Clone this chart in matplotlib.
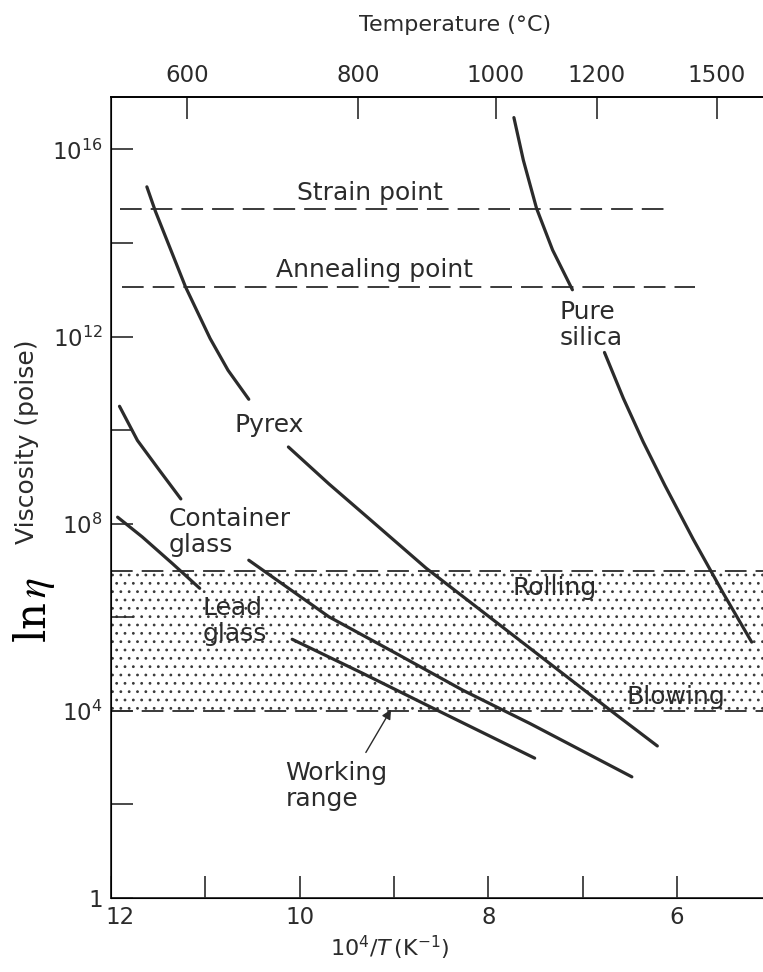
import numpy as np
import matplotlib
matplotlib.use('Agg')
import matplotlib.pyplot as plt
import matplotlib.transforms as mtransforms

plt.rcParams['font.family'] = ['DejaVu Sans']
plt.rcParams['hatch.linewidth'] = 0.8

# x values are 10^4/T (K^-1), y values are log10(viscosity / poise)
silica_upper_x = [7.73, 7.63, 7.49, 7.32, 7.11]
silica_upper_log = [16.68, 15.77, 14.74, 13.85, 13.00]
silica_lower_x = [6.77, 6.57, 6.36, 6.13, 5.83, 5.51, 5.21]
silica_lower_log = [11.66, 10.68, 9.75, 8.82, 7.67, 6.51, 5.47]

pyrex_upper_x = [11.62, 11.53, 11.21, 10.95, 10.76, 10.54]
pyrex_upper_log = [15.20, 14.68, 13.06, 11.96, 11.28, 10.66]
pyrex_lower_x = [10.12, 9.69, 9.26, 8.66, 7.67, 6.68, 6.21]
pyrex_lower_log = [9.64, 8.85, 8.10, 7.05, 5.51, 3.97, 3.25]

container_upper_x = [11.91, 11.72, 11.49, 11.26]
container_upper_log = [10.51, 9.78, 9.15, 8.53]
container_lower_x = [10.54, 9.69, 8.98, 8.27, 7.56, 6.48]
container_lower_log = [7.22, 6.01, 5.23, 4.44, 3.73, 2.59]

lead_upper_x = [11.93, 11.67, 11.35, 11.06]
lead_upper_log = [8.14, 7.72, 7.15, 6.62]
lead_lower_x = [10.08, 9.33, 8.62, 7.51]
lead_lower_log = [5.53, 4.80, 4.09, 2.99]

strain_log = 14.72
strain_x = [11.91, 6.10]
anneal_log = 13.07
anneal_x = [11.88, 5.81]
working_range = [1e4, 1e7]

y_major = [1, 1e4, 1e8, 1e12, 1e16]
y_major_labels = ['1', '$10^{4}$', '$10^{8}$', '$10^{12}$', '$10^{16}$']
y_minor = [1e2, 1e6, 1e10, 1e14]
x_major = [12, 10, 8, 6]
x_minor = [11, 9, 7]
temp_labels = ['600', '800', '1000', '1200', '1500']
temp_pos = [11.19, 9.38, 7.92, 6.85, 5.58]

ink = '#2b2b2b'
fig = plt.figure(figsize=(7.63, 9.72), dpi=100)
ax = fig.add_axes([0.1455, 0.0761, 0.8545, 0.8241])

ax.set_yscale('log')
ax.set_xlim(12, 5.09)
ax.set_ylim(1, 10**17.12)

# working range band
ax.axhspan(working_range[0], working_range[1], facecolor='none',
           edgecolor='#3a3a3a', hatch='..', linewidth=0)
for v in working_range:
    ax.axhline(v, color=ink, lw=1.3, dashes=(12, 5))
ax.plot(strain_x, [10**strain_log] * 2, color=ink, lw=1.3, dashes=(12, 5))
ax.plot(anneal_x, [10**anneal_log] * 2, color=ink, lw=1.3, dashes=(12, 5))

curves = [
    (silica_upper_x, silica_upper_log), (silica_lower_x, silica_lower_log),
    (pyrex_upper_x, pyrex_upper_log), (pyrex_lower_x, pyrex_lower_log),
    (container_upper_x, container_upper_log), (container_lower_x, container_lower_log),
    (lead_upper_x, lead_upper_log), (lead_lower_x, lead_lower_log),
]
for xs, ls in curves:
    ax.plot(xs, 10**np.array(ls), color=ink, lw=2.3, solid_capstyle='round',
            solid_joinstyle='round')

fs = 18
ax.text(9.256, 10**15.06, 'Strain point', fontsize=fs, ha='center', va='center', color=ink)
ax.text(9.212, 10**13.42, 'Annealing point', fontsize=fs, ha='center', va='center', color=ink)
ax.text(7.25, 10**12.24, 'Pure\nsilica', fontsize=fs, ha='left', va='center', color=ink, linespacing=1.1)
ax.text(10.69, 10**10.11, 'Pyrex', fontsize=fs, ha='left', va='center', color=ink)
ax.text(11.39, 10**7.82, 'Container\nglass', fontsize=fs, ha='left', va='center', color=ink, linespacing=1.1)
ax.text(11.03, 10**5.92, 'Lead\nglass', fontsize=fs, ha='left', va='center', color=ink, linespacing=1.1)
ax.text(7.297, 10**6.62, 'Rolling', fontsize=fs, ha='center', va='center', color=ink)
ax.text(6.013, 10**4.30, 'Blowing', fontsize=fs, ha='center', va='center', color=ink)
ax.text(10.15, 10**2.39, 'Working\nrange', fontsize=fs, ha='left', va='center', color=ink, linespacing=1.1)
ax.annotate('', xy=(9.017, 10**4.08), xytext=(9.314, 10**3.06),
            arrowprops=dict(arrowstyle='-|>', color=ink, lw=1.0, mutation_scale=14))

ax.set_yticks(y_major, y_major_labels)
ax.set_yticks(y_minor, minor=True)
ax.set_yticklabels([], minor=True)
ax.set_xticks(x_major, [str(v) for v in x_major])
ax.set_xticks(x_minor, minor=True)
ax.tick_params(axis='both', which='both', direction='in', length=16, width=1.2,
               labelsize=16.5, colors=ink, top=False, right=False)
ax.tick_params(axis='x', pad=6)
ax.tick_params(axis='y', pad=6)
for s in ['left', 'bottom', 'top']:
    ax.spines[s].set_linewidth(1.3)
    ax.spines[s].set_color(ink)
ax.spines['right'].set_visible(False)

# the "12" sits a little right of the corner, clear of the "1"
shift = mtransforms.ScaledTranslation(9 / 100, 0, fig.dpi_scale_trans)
first = ax.xaxis.get_major_ticks()[0]
first.label1.set_transform(first.label1.get_transform() + shift)

ax2 = ax.twiny()
ax2.set_xlim(ax.get_xlim())
ax2.set_xticks(temp_pos, temp_labels)
ax2.tick_params(axis='x', direction='in', length=16, width=1.2, labelsize=16.5,
                colors=ink, pad=7)
ax2.spines['right'].set_visible(False)
ax2.spines['top'].set_linewidth(1.3)

fig.text(455 / 763, 1 - 25 / 972, 'Temperature (°C)', fontsize=16, ha='center', va='center', color=ink)
fig.text(390 / 763, 1 - 948 / 972, r'$10^4/T\,(\mathrm{K}^{-1})$', fontsize=16,
         ha='center', va='center', color=ink)
fig.text(27 / 763, 1 - 442 / 972, 'Viscosity (poise)', fontsize=18, rotation=90,
         ha='center', va='center', color=ink)
fig.text(34 / 763, 1 - 610 / 972, r'ln$\,\eta$', fontsize=30, rotation=90, ha='center', va='center',
         family='DejaVu Serif', math_fontfamily='stix', color='black')

fig.savefig('out.png', dpi=100)
